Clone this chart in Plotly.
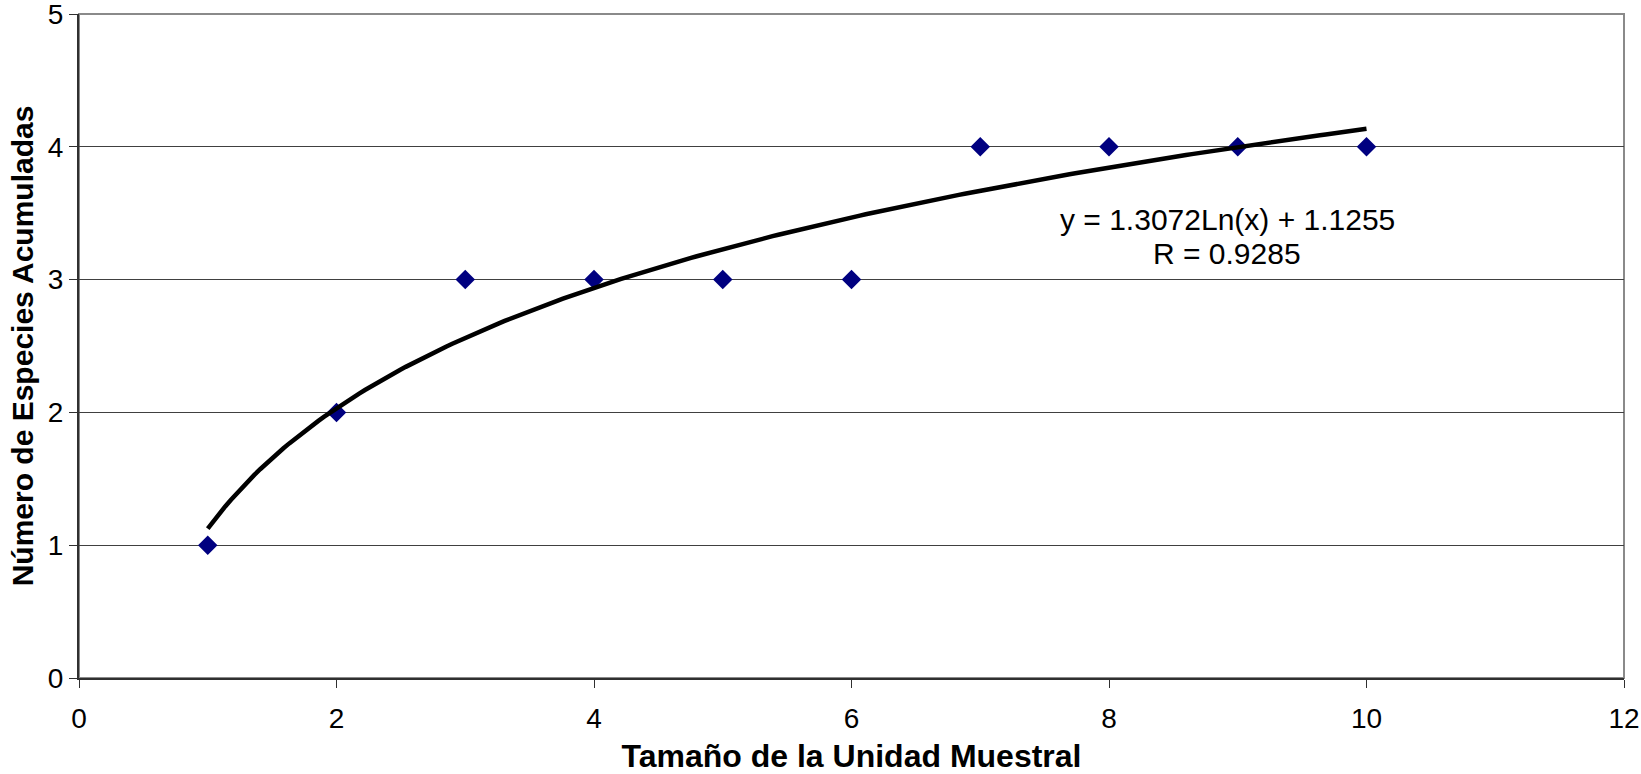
import numpy as np
import plotly.graph_objects as go

# Data
tamano = [1, 2, 3, 4, 5, 6, 7, 8, 9, 10]
especies = [1, 2, 3, 3, 3, 3, 4, 4, 4, 4]

# Logarithmic trend line printed on the chart
trend_a = 1.3072
trend_b = 1.1255
equation_line1 = "y = 1.3072Ln(x) + 1.1255"
equation_line2 = "R = 0.9285"

x_ticks = [0, 2, 4, 6, 8, 10, 12]
y_ticks = [0, 1, 2, 3, 4, 5]

xt = np.linspace(min(tamano), max(tamano), 200)
yt = trend_a * np.log(xt) + trend_b

FONT = "Liberation Sans, Arial, sans-serif"

fig = go.Figure()
fig.add_trace(go.Scatter(
    x=tamano, y=especies, mode="markers",
    marker=dict(symbol="diamond", size=15, color="#000080", line=dict(width=0)),
    showlegend=False, cliponaxis=False,
))
fig.add_trace(go.Scatter(
    x=xt, y=yt, mode="lines",
    line=dict(color="black", width=4.5),
    showlegend=False,
))

fig.add_annotation(
    x=8.92, y=3.45, xref="x", yref="y", text=equation_line1,
    showarrow=False, font=dict(family=FONT, size=30, color="black"),
)
fig.add_annotation(
    x=8.92, y=3.20, xref="x", yref="y", text=equation_line2,
    showarrow=False, font=dict(family=FONT, size=30, color="black"),
)

fig.add_shape(type="rect", xref="paper", yref="paper", x0=0, x1=1, y0=0, y1=1,
              line=dict(color="#8a8a8a", width=2), layer="below")

fig.update_layout(
    width=1641, height=774,
    margin=dict(l=79, r=17, t=14, b=96),
    paper_bgcolor="white", plot_bgcolor="white",
    font=dict(family=FONT, color="black"),
    xaxis=dict(
        range=[0, 12], tickvals=x_ticks, ticks="outside", ticklen=8, tickwidth=1,
        tickcolor="#303030", showgrid=False, zeroline=False,
        showline=True, linecolor="#303030", linewidth=2,
        tickfont=dict(size=28), ticklabelstandoff=6, automargin=False,
        ticklabeloverflow="allow",
        title=dict(text="<b>Tamaño de la Unidad Muestral</b>", font=dict(size=32), standoff=14),
    ),
    yaxis=dict(
        range=[0, 5], tickvals=y_ticks, ticks="outside", ticklen=8, tickwidth=1,
        tickcolor="#303030", showgrid=True, gridcolor="#404040", gridwidth=1,
        zeroline=False, showline=True, linecolor="#303030", linewidth=2,
        tickfont=dict(size=28), ticklabelstandoff=0, ticksuffix="\u2009",
        automargin=False, ticklabeloverflow="allow",
        title=dict(text="<b>Número de Especies Acumuladas</b>", font=dict(size=30), standoff=5),
    ),
)

fig.write_html(
    "out.html",
    config={"displayModeBar": False},
    post_script="document.body.style.margin='0';document.body.style.overflow='hidden';",
)
